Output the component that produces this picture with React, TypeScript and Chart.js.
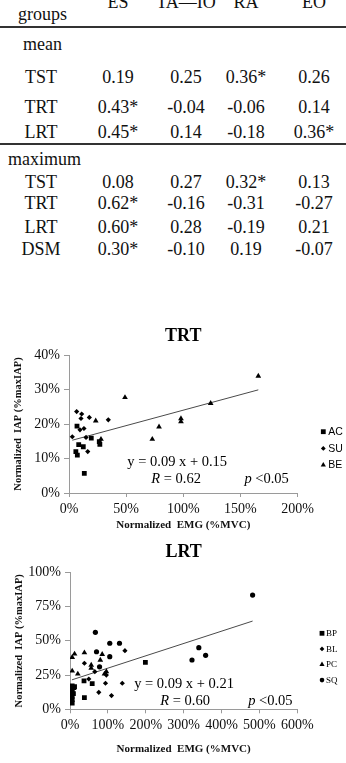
import React, { useEffect, useRef } from "react";
import { Chart, registerables } from "chart.js";

Chart.register(...registerables);

// ---------------- Table data ----------------
const tableColumns = ["ES", "TA\u2014IO", "RA", "EO"];
const meanRowLabels = ["TST", "TRT", "LRT"];
const meanTST = ["0.19", "0.25", "0.36*", "0.26"];
const meanTRT = ["0.43*", "-0.04", "-0.06", "0.14"];
const meanLRT = ["0.45*", "0.14", "-0.18", "0.36*"];
const maxRowLabels = ["TST", "TRT", "LRT", "DSM"];
const maxTST = ["0.08", "0.27", "0.32*", "0.13"];
const maxTRT = ["0.62*", "-0.16", "-0.31", "-0.27"];
const maxLRT = ["0.60*", "0.28", "-0.19", "0.21"];
const maxDSM = ["0.30*", "-0.10", "0.19", "-0.07"];

// ---------------- TRT chart data (x: %MVC, y: %maxIAP) ----------------
const trtLabels = ["AC", "SU", "BE"];
const trtAC = [[7, 19.4], [19.5, 15.9], [8.5, 14.0], [12.5, 13.4], [6, 12.0], [7.3, 11.0], [26.5, 14.9], [27, 14.1], [13.4, 5.7]];
const trtSU = [[6.7, 23.6], [11.1, 22.9], [10.5, 21.6], [17.8, 21.9], [9.6, 18.3], [13.1, 18.7], [34.4, 21.2], [2.9, 16.3], [14.9, 16.1], [16.4, 12.0]];
const trtBE = [[23.4, 20.9], [28, 15.6], [49, 27.7], [72.9, 15.6], [78.8, 19.2], [98, 21.6], [98, 20.7], [124, 26.0], [165.7, 33.9]];
const trtTrend = [[2.9, 15.3], [165.7, 29.9]];
const trtXTicks = { min: 0, max: 200, step: 50 };
const trtYTicks = { min: 0, max: 40, step: 10 };
const trtEquation = "y = 0.09 x + 0.15";
const trtR = "0.62";

// ---------------- LRT chart data ----------------
const lrtLabels = ["BP", "BL", "PC", "SQ"];
const lrtBP = [[199, 34.3], [37, 20.7], [58.6, 18.8], [38, 8.5], [5.8, 17.0], [5.8, 14.5], [5.8, 12.0], [5.8, 9.5], [5.8, 7.0], [5.8, 4.6], [12, 16.5], [9, 11.5]];
const lrtBL = [[38, 33.6], [145, 42.8], [65.5, 27.5], [93.7, 19.0], [138, 19.0], [76, 12.4], [109.5, 10.0], [49.6, 22.1], [96, 25.0]];
const lrtPC = [[5.8, 38.0], [12, 40.4], [38, 41.3], [56, 32.3], [56, 30.0], [80, 36.0], [85, 40.1], [5.8, 28.0], [20.6, 25.8], [96, 27.5], [91, 25.8], [10, 15.3]];
const lrtSQ = [[67, 56.2], [105, 48.2], [130.6, 48.2], [70, 42.0], [105, 38.4], [322, 36.0], [340, 45.0], [358, 39.4], [482, 83.4], [78, 31.0]];
const lrtTrend = [[5, 21.5], [482, 64.4]];
const lrtXTicks = { min: 0, max: 600, step: 100 };
const lrtYTicks = { min: 0, max: 100, step: 25 };
const lrtEquation = "y = 0.09 x + 0.21";
const lrtR = "0.60";

const pValue = "<0.05";

const SERIF = "'Liberation Serif', 'Times New Roman', serif";
const SANS = "'Liberation Sans', Arial, sans-serif";
const AXIS = "#9a9a9a";

const toPts = (arr: number[][]) => arr.map(([x, y]) => ({ x, y }));

function drawMarker(ctx: CanvasRenderingContext2D, style: string, x: number, y: number, r: number) {
  ctx.beginPath();
  if (style === "rect") {
    const s = r * Math.SQRT1_2;
    ctx.rect(x - s, y - s, 2 * s, 2 * s);
  } else if (style === "rectRot") {
    ctx.moveTo(x - r, y);
    ctx.lineTo(x, y - r);
    ctx.lineTo(x + r, y);
    ctx.lineTo(x, y + r);
    ctx.closePath();
  } else if (style === "triangle") {
    ctx.moveTo(x, y - r);
    ctx.lineTo(x + r * 0.866, y + r * 0.5);
    ctx.lineTo(x - r * 0.866, y + r * 0.5);
    ctx.closePath();
  } else {
    ctx.arc(x, y, r, 0, Math.PI * 2);
  }
  ctx.fill();
}

const sideLegend = {
  id: "sideLegend",
  afterDraw(chart: any, _args: any, opts: any) {
    const { ctx, chartArea } = chart;
    ctx.save();
    ctx.fillStyle = "#000";
    ctx.font = opts.font;
    ctx.textBaseline = "middle";
    ctx.textAlign = "left";
    const items = chart.data.datasets.filter((d: any) => !d.isTrend);
    items.forEach((ds: any, i: number) => {
      const x = chartArea.right + opts.offsetX;
      const y = chartArea.top + opts.offsetY + i * opts.spacing;
      drawMarker(ctx, ds.pointStyle, x, y, opts.markerRadius[ds.pointStyle] || 2.5);
      ctx.fillText(ds.label, x + opts.textGap, y + 0.5);
    });
    ctx.restore();
  },
};

const equationText = {
  id: "equationText",
  afterDraw(chart: any, _args: any, opts: any) {
    const { ctx } = chart;
    const xs = chart.scales.x;
    const ys = chart.scales.y;
    ctx.save();
    ctx.fillStyle = "#000";
    ctx.textBaseline = "middle";
    ctx.textAlign = "left";
    (opts.items || []).forEach((it: any) => {
      const fonts = it.parts.map((p: any) => `${p.italic ? "italic " : ""}${opts.size}px ${SERIF}`);
      let total = 0;
      const widths = it.parts.map((p: any, i: number) => {
        ctx.font = fonts[i];
        const w = ctx.measureText(p.text).width;
        total += w;
        return w;
      });
      let x = xs.getPixelForValue(it.x) - total / 2;
      const y = ys.getPixelForValue(it.y);
      it.parts.forEach((p: any, i: number) => {
        ctx.font = fonts[i];
        ctx.fillText(p.text, x, y);
        x += widths[i];
      });
    });
    ctx.restore();
  },
};

interface Spec {
  title: string;
  series: { label: string; data: number[][]; style: string; radius: number }[];
  trend: number[][];
  xTicks: { min: number; max: number; step: number };
  yTicks: { min: number; max: number; step: number };
  padRight: number;
  yAxisWidth: number;
  xAxisHeight: number;
  titlePadTop: number;
  titlePadBottom: number;
  xTitlePadBottom: number;
  yTitlePadTop: number;
  legend: any;
  equations: any[];
}

function buildConfig(spec: Spec): any {
  const datasets: any[] = spec.series.map((s) => ({
    label: s.label,
    data: toPts(s.data),
    pointStyle: s.style,
    pointRadius: s.radius,
    pointHoverRadius: s.radius,
    backgroundColor: "#000",
    borderColor: "#000",
    borderWidth: 0,
    showLine: false,
  }));
  datasets.push({
    label: "trend",
    isTrend: true,
    data: toPts(spec.trend),
    showLine: true,
    pointRadius: 0,
    borderColor: "#4a4a4a",
    borderWidth: 1,
    backgroundColor: "#4a4a4a",
  });
  const tickFont = { family: SERIF, size: 14 };
  return {
    type: "scatter",
    data: { datasets },
    options: {
      animation: false,
      responsive: false,
      devicePixelRatio: 1,
      layout: { padding: { left: 0, right: spec.padRight, top: 0, bottom: 0 } },
      plugins: {
        legend: { display: false },
        tooltip: { enabled: false },
        title: {
          display: true,
          text: spec.title,
          fullSize: false,
          color: "#000",
          font: { family: SERIF, size: 18, weight: "bold" },
          padding: { top: spec.titlePadTop, bottom: spec.titlePadBottom },
        },
        sideLegend: spec.legend,
        equationText: { size: 14.5, items: spec.equations },
      },
      scales: {
        x: {
          type: "linear",
          min: spec.xTicks.min,
          max: spec.xTicks.max,
          ticks: {
            stepSize: spec.xTicks.step,
            callback: (v: any) => v + "%",
            font: tickFont,
            color: "#111",
            padding: 3.5,
            maxRotation: 0,
            autoSkip: false,
          },
          grid: { drawOnChartArea: false, drawTicks: true, tickLength: 4, color: AXIS },
          border: { display: true, color: AXIS, width: 1 },
          title: {
            display: true,
            text: "Normalized  EMG (%MVC)",
            color: "#111",
            font: { family: SERIF, size: 11, weight: "bold" },
            padding: { top: 0, bottom: spec.xTitlePadBottom },
          },
          afterFit: (s: any) => {
            s.height = spec.xAxisHeight;
          },
        },
        y: {
          type: "linear",
          min: spec.yTicks.min,
          max: spec.yTicks.max,
          ticks: {
            stepSize: spec.yTicks.step,
            callback: (v: any) => v + "%",
            font: tickFont,
            color: "#111",
            padding: 4,
          },
          grid: { drawOnChartArea: false, drawTicks: true, tickLength: 5, color: AXIS },
          border: { display: true, color: AXIS, width: 1 },
          title: {
            display: true,
            text: "Normalized  IAP (%maxIAP)",
            color: "#111",
            font: { family: SERIF, size: 10.5, weight: "bold" },
            padding: { top: spec.yTitlePadTop, bottom: 0 },
          },
          afterFit: (s: any) => {
            s.width = spec.yAxisWidth;
          },
        },
      },
    },
    plugins: [sideLegend, equationText],
  };
}

function ScatterPanel({ spec, top, height }: { spec: Spec; top: number; height: number }) {
  const ref = useRef<HTMLCanvasElement | null>(null);
  useEffect(() => {
    if (!ref.current) return;
    const chart = new Chart(ref.current, buildConfig(spec));
    return () => chart.destroy();
  }, []);
  return (
    <canvas
      ref={ref}
      width={346}
      height={height}
      style={{ position: "absolute", left: 0, top, width: 346, height, display: "block" }}
    />
  );
}

const trtSpec: Spec = {
  title: "TRT",
  series: [
    { label: trtLabels[0], data: trtAC, style: "rect", radius: 3.4 },
    { label: trtLabels[1], data: trtSU, style: "rectRot", radius: 2.6 },
    { label: trtLabels[2], data: trtBE, style: "triangle", radius: 3.3 },
  ],
  trend: trtTrend,
  xTicks: trtXTicks,
  yTicks: trtYTicks,
  padRight: 48.5,
  yAxisWidth: 69,
  xAxisHeight: 40,
  titlePadTop: 5.2,
  titlePadBottom: 8.2,
  xTitlePadBottom: 1.4,
  yTitlePadTop: 11.7,
  legend: {
    font: `10.5px ${SANS}`,
    offsetX: 25.8,
    offsetY: 76.7,
    spacing: 16.7,
    textGap: 5,
    markerRadius: { rect: 3.4, rectRot: 2.4, triangle: 3, circle: 2.3 },
  },
  equations: [
    { x: 94.7, y: 8.9, parts: [{ text: trtEquation }] },
    { x: 93.7, y: 4.0, parts: [{ text: "R", italic: true }, { text: " = " + trtR }] },
    { x: 173, y: 4.0, parts: [{ text: "p", italic: true }, { text: " " + pValue }] },
  ],
};

const lrtSpec: Spec = {
  title: "LRT",
  series: [
    { label: lrtLabels[0], data: lrtBP, style: "rect", radius: 3.4 },
    { label: lrtLabels[1], data: lrtBL, style: "rectRot", radius: 2.6 },
    { label: lrtLabels[2], data: lrtPC, style: "triangle", radius: 3.3 },
    { label: lrtLabels[3], data: lrtSQ, style: "circle", radius: 2.6 },
  ],
  trend: lrtTrend,
  xTicks: lrtXTicks,
  yTicks: lrtYTicks,
  padRight: 48.7,
  yAxisWidth: 70,
  xAxisHeight: 53.7,
  titlePadTop: 6.2,
  titlePadBottom: 9.5,
  xTitlePadBottom: 7.4,
  yTitlePadTop: 12.7,
  legend: {
    font: `9px ${SERIF}`,
    offsetX: 24.7,
    offsetY: 61,
    spacing: 15.6,
    textGap: 4,
    markerRadius: { rect: 3.4, rectRot: 2.4, triangle: 3, circle: 2.3 },
  },
  equations: [
    { x: 301, y: 18.2, parts: [{ text: lrtEquation }] },
    { x: 304, y: 6.1, parts: [{ text: "R", italic: true }, { text: " = " + lrtR }] },
    { x: 529, y: 6.1, parts: [{ text: "p", italic: true }, { text: " " + pValue }] },
  ],
};

const colX = [118, 186, 246, 314];
const labelX = 41;

function Cell({ x, y, text, align = "center" }: { x: number; y: number; text: string; align?: string }) {
  const tx = align === "center" ? "-50%" : "0";
  return (
    <div
      style={{
        position: "absolute",
        left: x,
        top: y,
        transform: `translate(${tx}, -50%)`,
        whiteSpace: "pre",
        lineHeight: 1,
        fontSize: 18,
        fontFamily: SERIF,
        color: "#111",
      }}
    >
      {text}
    </div>
  );
}

function Row({ y, label, values }: { y: number; label: string; values: string[] }) {
  return (
    <>
      <Cell x={labelX} y={y} text={label} />
      {values.map((v, i) => (
        <Cell key={i} x={colX[i]} y={y} text={v} />
      ))}
    </>
  );
}

export default function App() {
  const meanVals = [meanTST, meanTRT, meanLRT];
  const maxVals = [maxTST, maxTRT, maxLRT, maxDSM];
  const meanY = [76.7, 106.7, 132];
  const maxY = [181.7, 203.3, 226.7, 249];
  return (
    <div
      style={{
        position: "absolute",
        left: 0,
        top: 0,
        width: 346,
        height: 763,
        background: "#fff",
        overflow: "hidden",
      }}
    >
      {tableColumns.map((c, i) => (
        <Cell key={c} x={colX[i]} y={2} text={c} />
      ))}
      <Cell x={18} y={13.7} text="groups" align="left" />
      <div style={{ position: "absolute", left: 0, top: 26, width: 346, height: 2, background: "#333" }} />
      <Cell x={23} y={44.4} text="mean" align="left" />
      {meanRowLabels.map((r, i) => (
        <Row key={"m" + r} y={meanY[i]} label={r} values={meanVals[i]} />
      ))}
      <div style={{ position: "absolute", left: 0, top: 143, width: 346, height: 2, background: "#333" }} />
      <Cell x={8} y={159.4} text="maximum" align="left" />
      {maxRowLabels.map((r, i) => (
        <Row key={"x" + r} y={maxY[i]} label={r} values={maxVals[i]} />
      ))}
      <ScatterPanel spec={trtSpec} top={320} height={213} />
      <ScatterPanel spec={lrtSpec} top={535} height={228} />
    </div>
  );
}
